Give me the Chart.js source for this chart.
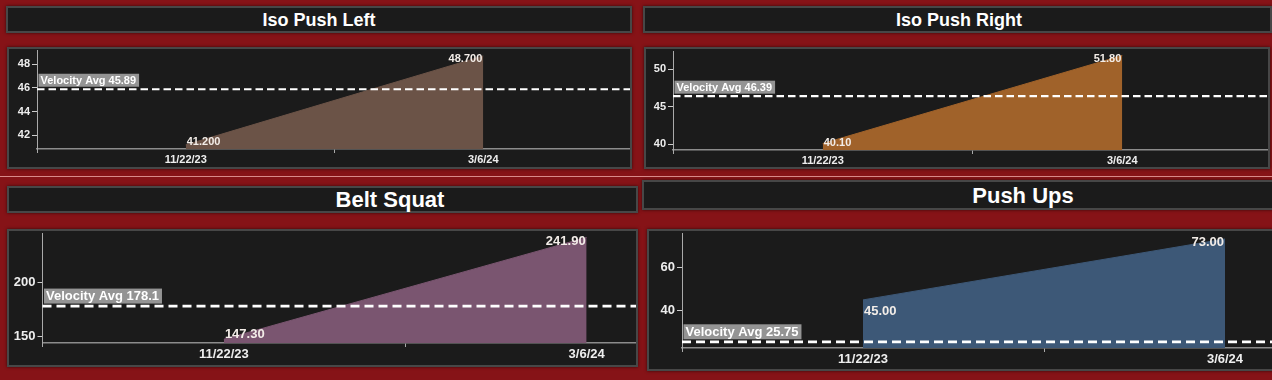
<!DOCTYPE html>
<html>
<head>
<meta charset="utf-8">
<script src="https://cdn.jsdelivr.net/npm/chart.js"></script>
<style>
body{margin:0;width:1272px;height:380px;background:#861317;position:relative;overflow:hidden;font-family:"Liberation Sans",Arial,sans-serif;}
.box{position:absolute;background:#1b1b1b;border:2px solid #474747;box-sizing:border-box;overflow:hidden;box-shadow:0 0 3px rgba(0,0,0,.6);}
.title{position:absolute;color:#fff;font-weight:bold;line-height:1;white-space:nowrap;transform:translate(-50%,-50%);}
.sep{position:absolute;left:0;width:1272px;top:176px;height:1px;background:#d98a8a;}
canvas{position:absolute;}
</style>
</head>
<body>
<div class="sep"></div>
<script>
// chart data
const titles = ['Iso Push Left', 'Iso Push Right', 'Belt Squat', 'Push Ups'];
const dates = ['11/22/23', '3/6/24'];
const isoPushLeft = [41.2, 48.7];
const isoPushRight = [40.1, 51.8];
const beltSquat = [147.3, 241.9];
const pushUps = [45, 73];
const velocityAvg = [45.89, 46.39, 178.1, 25.75];
const yTicks = [[42, 44, 46, 48], [40, 45, 50], [150, 200], [40, 60]];
const yRange = [[40.85, 49.2], [39.24, 52.3], [143.8, 245.7], [22.9, 75.6]];
const valueDecimals = [3, 2, 2, 2];
const series = [isoPushLeft, isoPushRight, beltSquat, pushUps];

// layout / look of each panel
const panels = [
  {title:[6,6,626,27], tc:[319,20], tf:18, box:[7,47,625,122], ca:[37,50,632,149.3], f:11, dash:[7.5,4], lw:2.2, color:'#6b5347', shift:[0,0]},
  {title:[643,6,629,27], tc:[959,20], tf:18, box:[644,47,626,122], ca:[673,51.7,1272,150], f:11, dash:[7.5,4], lw:2.2, color:'#a0622a', shift:[0,0]},
  {title:[7,186,631,27], tc:[390,200], tf:22, box:[7,229,631,138], ca:[42.5,233.3,768,343.3], f:13, dash:[9,5], lw:2.8, color:'#7a5570', shift:[0,0]},
  {title:[642,180,632,30], tc:[1023,196], tf:22, box:[647,229,627,142], ca:[682,233.3,1406,348.3], f:13, dash:[9,5], lw:2.8, color:'#3d5877', shift:[8,0]}
];

Chart.defaults.font.family = '"Liberation Sans", Arial, sans-serif';
Chart.defaults.font.weight = 'bold';
Chart.defaults.color = '#eeeeee';

const overlay = {
  id: 'overlay',
  afterDatasetsDraw(chart, args, o) {
    const ctx = chart.ctx, a = chart.chartArea, y = chart.scales.y, x = chart.scales.x;
    const f = o.f;
    ctx.save();
    ctx.font = 'bold ' + f + 'px "Liberation Sans", Arial';
    // value labels
    const vals = chart.data.datasets[0].data;
    ctx.fillStyle = '#f3ede8';
    ctx.textBaseline = 'middle';
    vals.forEach((v, i) => {
      const px = x.getPixelForValue(i);
      let cy = y.getPixelForValue(v) + f * 0.3 + o.shift[i];
      cy = Math.min(cy, a.bottom - f * 0.5 - 2);
      ctx.textAlign = i == 0 ? 'left' : 'right';
      ctx.fillText(v.toFixed(o.dec), i == 0 ? px + 1 : px - 1, cy);
    });
    // average line
    const ya = y.getPixelForValue(o.avg);
    ctx.strokeStyle = '#ffffff';
    ctx.lineWidth = o.lw;
    ctx.setLineDash(o.dash);
    ctx.beginPath();
    ctx.moveTo(a.left, ya);
    ctx.lineTo(a.right, ya);
    ctx.stroke();
    const txt = 'Velocity Avg ' + o.avg;
    const w = ctx.measureText(txt).width + 5;
    const h = f + 2;
    ctx.fillStyle = 'rgba(165,165,165,0.88)';
    ctx.fillRect(a.left + 1.5, ya - 2.5 - h, w, h);
    ctx.fillStyle = '#ffffff';
    ctx.textAlign = 'left';
    ctx.fillText(txt, a.left + 3.5, ya - 2.5 - h / 2 + 0.5);
    ctx.restore();
  }
};

panels.forEach((p, k) => {
  const t = document.createElement('div');
  t.className = 'box';
  Object.assign(t.style, {left:p.title[0]+'px', top:p.title[1]+'px', width:p.title[2]+'px', height:p.title[3]+'px'});
  document.body.appendChild(t);
  const tt = document.createElement('div');
  tt.className = 'title';
  tt.textContent = titles[k];
  Object.assign(tt.style, {left:p.tc[0]+'px', top:p.tc[1]+'px', fontSize:p.tf+'px'});
  document.body.appendChild(tt);

  const b = document.createElement('div');
  b.className = 'box';
  Object.assign(b.style, {left:p.box[0]+'px', top:p.box[1]+'px', width:p.box[2]+'px', height:p.box[3]+'px'});
  document.body.appendChild(b);

  // canvas in page coords, clipped by the panel
  const cl = p.box[0], ct = p.box[1] - 20;
  const cw = Math.round(p.ca[2] - cl), chh = Math.round(p.ca[3] + 30 - ct);
  const cv = document.createElement('canvas');
  cv.width = cw; cv.height = chh;
  cv.style.left = (cl - p.box[0] - 2) + 'px';
  cv.style.top = (ct - p.box[1] - 2) + 'px';
  b.appendChild(cv);

  new Chart(cv.getContext('2d'), {
    type: 'line',
    data: {
      labels: dates,
      datasets: [{
        data: series[k],
        fill: 'start',
        backgroundColor: p.color,
        borderColor: p.color,
        borderWidth: 1,
        pointRadius: 0,
        tension: 0
      }]
    },
    options: {
      responsive: false,
      animation: false,
      layout: {padding: {top: p.ca[1] - ct, left: 0, right: 0, bottom: 0}},
      plugins: {
        legend: {display: false},
        tooltip: {enabled: false},
        overlay: {avg: velocityAvg[k], f: p.f, dec: valueDecimals[k], dash: p.dash, lw: p.lw, shift: p.shift}
      },
      scales: {
        x: {
          type: 'category',
          offset: true,
          grid: {offset: true, drawOnChartArea: false, drawTicks: true, tickLength: 4, color: '#aaaaaa'},
          border: {color: '#8c8c8c', width: 1.5},
          ticks: {font: {size: p.f, weight: 'bold'}, color: '#eeeeee', padding: 0, maxRotation: 0},
          afterFit: s => { s.height = 30; }
        },
        y: {
          min: yRange[k][0],
          max: yRange[k][1],
          grid: {drawOnChartArea: false, drawTicks: true, tickLength: 5, color: '#cccccc'},
          border: {color: '#aaaaaa', width: 1},
          ticks: {font: {size: p.f, weight: 'bold'}, color: '#eeeeee', padding: 2},
          afterBuildTicks: s => { s.ticks = yTicks[k].map(v => ({value: v})); },
          afterFit: s => { s.width = p.ca[0] - cl; }
        }
      }
    },
    plugins: [overlay]
  });
});
</script>
</body>
</html>
